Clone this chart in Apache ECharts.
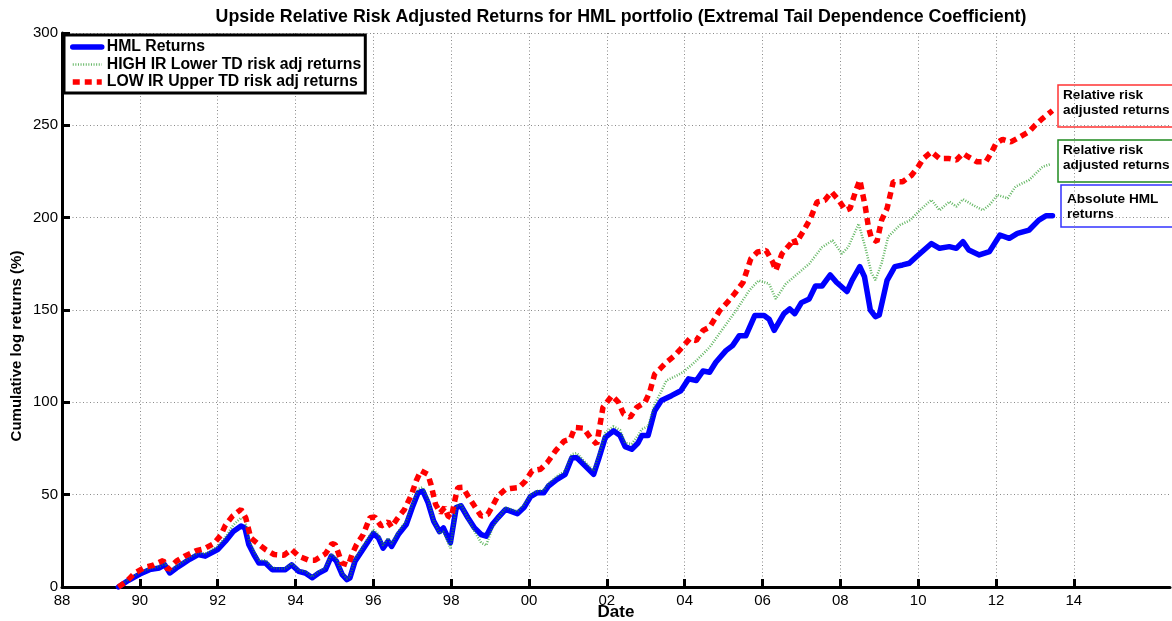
<!DOCTYPE html>
<html lang="en">
<head>
    <meta charset="UTF-8">
    <title>Upside Relative Risk Adjusted Returns</title>
    <script src="https://cdn.jsdelivr.net/npm/echarts@6/dist/echarts.min.js"></script>
    <style>
        html, body { margin: 0; padding: 0; background: #fff; }
        #ChartId { width: 1172px; height: 621px; }
    </style>
</head>
<body>
<div id="ChartId"></div>
<script>
    // tick labels
    var xTickYears = [1988, 1990, 1992, 1994, 1996, 1998, 2000, 2002, 2004, 2006, 2008, 2010, 2012, 2014];
    var yTicks = [0, 50, 100, 150, 200, 250, 300];

    // HML returns (blue)
    var hmlDates = [1989.45, 1989.7, 1990.0, 1990.25, 1990.5, 1990.64, 1990.77, 1990.94, 1991.1, 1991.28, 1991.5, 1991.68,
        1992.0, 1992.2, 1992.4, 1992.6, 1992.7, 1992.8, 1992.93, 1993.06, 1993.23, 1993.4, 1993.57, 1993.74, 1993.9,
        1994.08, 1994.25, 1994.43, 1994.6, 1994.77, 1994.92, 1995.05, 1995.2, 1995.32, 1995.4, 1995.53, 1995.7,
        1996.0, 1996.13, 1996.25, 1996.38, 1996.47, 1996.64, 1996.85, 1997.0, 1997.15, 1997.27, 1997.4, 1997.55,
        1997.7, 1997.8, 1997.98, 1998.13, 1998.25, 1998.43, 1998.6, 1998.77, 1998.9, 1999.06, 1999.2, 1999.4,
        1999.7, 1999.87, 2000.04, 2000.2, 2000.38, 2000.5, 2000.72, 2000.93, 2001.1, 2001.23, 2001.4, 2001.66,
        2001.8, 2001.96, 2002.17, 2002.34, 2002.47, 2002.64, 2002.8, 2002.9, 2003.06, 2003.23, 2003.4, 2003.66,
        2003.9, 2004.1, 2004.3, 2004.47, 2004.64, 2004.8, 2005.06, 2005.23, 2005.4, 2005.57, 2005.8, 2006.04,
        2006.17, 2006.3, 2006.55, 2006.7, 2006.83, 2007.0, 2007.2, 2007.36, 2007.53, 2007.74, 2007.9, 2008.17,
        2008.3, 2008.5, 2008.62, 2008.77, 2008.9, 2009.0, 2009.2, 2009.4, 2009.6, 2009.77, 2009.96, 2010.34,
        2010.55, 2010.8, 2010.98, 2011.15, 2011.3, 2011.57, 2011.83, 2012.1, 2012.34, 2012.55, 2012.85, 2013.1,
        2013.28, 2013.45];
    var hmlReturns = [0, 3.5, 7, 9.4, 10.3, 12, 7.6, 10.3, 12.5, 15, 17.6, 16.7,
        20.3, 24.8, 30, 33, 32, 23, 17.6, 13, 13, 9.4, 9.4, 9.4, 12,
        8.5, 7.6, 5, 7.6, 9.4, 16.7, 14, 6.7, 4, 5, 14, 19.4,
        29, 26.6, 21, 24.8, 22, 28.4, 34, 43, 51, 52, 46, 35.7,
        30, 32, 24, 43, 44, 37.5, 32, 28.4, 27.5, 34, 37.5, 42,
        39.7, 43, 49, 51, 51, 54.7, 58.3, 61, 70, 70, 66.5, 61,
        70, 81, 84.6, 82, 76, 74.6, 78, 82, 82, 95.5, 101, 103.6,
        106.3, 112.7, 111.8, 117, 116.3, 121.7, 128, 130.7, 136, 136, 147, 147,
        145, 139, 148, 150.6, 148, 154, 156, 163, 163, 169, 165, 160,
        166, 173.5, 168, 150, 146.4, 147.3, 166, 173.5, 174.4, 175.3, 179, 186,
        183.4, 184.3, 183.4, 187, 182.5, 179.8, 181.6, 190.6, 188.8, 191.5, 193.3, 198.7,
        201, 201];

    // HIGH IR Lower TD risk adjusted returns (green)
    var highIrDates = [1989.45, 1989.7, 1990.0, 1990.25, 1990.5, 1990.64, 1990.77, 1990.94, 1991.1, 1991.28, 1991.5, 1991.68,
        1992.0, 1992.2, 1992.4, 1992.6, 1992.7, 1992.8, 1992.93, 1993.06, 1993.23, 1993.4, 1993.57, 1993.74, 1993.9,
        1994.08, 1994.25, 1994.43, 1994.6, 1994.77, 1994.92, 1995.05, 1995.2, 1995.32, 1995.4, 1995.53, 1995.7,
        1996.0, 1996.13, 1996.25, 1996.38, 1996.47, 1996.64, 1996.85, 1997.0, 1997.15, 1997.27, 1997.4, 1997.55,
        1997.7, 1997.8, 1997.98, 1998.13, 1998.25, 1998.43, 1998.6, 1998.77, 1998.9, 1999.06, 1999.2, 1999.4,
        1999.7, 1999.87, 2000.04, 2000.2, 2000.38, 2000.5, 2000.72, 2000.93, 2001.1, 2001.23, 2001.4, 2001.66,
        2001.8, 2001.96, 2002.17, 2002.34, 2002.47, 2002.64, 2002.8, 2002.9, 2003.06, 2003.23, 2003.4, 2003.53,
        2003.75, 2003.96, 2004.3, 2004.64, 2004.98, 2005.32, 2005.66, 2005.9, 2006.17, 2006.34, 2006.6, 2006.85,
        2007.2, 2007.53, 2007.8, 2008.04, 2008.2, 2008.47, 2008.64, 2008.8, 2008.9, 2009.06, 2009.23, 2009.53,
        2009.8, 2010.04, 2010.34, 2010.55, 2010.8, 2010.98, 2011.15, 2011.4, 2011.66, 2011.83, 2012.04, 2012.3,
        2012.5, 2012.85, 2013.2, 2013.4];
    var highIrReturns = [0, 4, 8, 10, 11, 13, 8.5, 11.5, 13.5, 16, 18.5, 18,
        22, 27, 33.5, 37.5, 36.5, 26, 19.5, 14.5, 14.5, 10.5, 10, 10, 13,
        9, 8.5, 5.5, 8.5, 10.5, 18, 15.5, 7.5, 4.5, 5.5, 15.5, 21,
        31, 28.5, 22.5, 26.5, 23.5, 30, 36, 45, 53, 54, 48, 36,
        29, 30, 21, 44, 45, 37, 30, 24, 22.5, 32, 37, 43,
        41, 44.5, 50, 52, 52.5, 56, 60, 63, 72, 72.5, 68.5, 63,
        72, 83.5, 87, 85, 78, 77.5, 82, 85.5, 87, 99, 106, 111.8,
        114, 116.3, 122.6, 129.8, 139.8, 149.7, 160.6, 166, 164.2, 156, 164.2, 168.7,
        175, 184, 187.7, 180.5, 184, 196.7, 184, 170, 166.2, 175.3, 189.7, 196,
        198.7, 204, 209.6, 204, 208.7, 206, 210, 206.9, 204, 206.9, 212.3, 210.5,
        216.8, 220.4, 227.6, 229];

    // LOW IR Upper TD risk adjusted returns (red)
    var lowIrDates = [1989.45, 1989.66, 1989.87, 1990.13, 1990.34, 1990.6, 1990.72, 1990.94, 1991.15, 1991.45, 1991.66, 1991.9,
        1992.08, 1992.2, 1992.38, 1992.6, 1992.72, 1992.85, 1993.06, 1993.23, 1993.45, 1993.7, 1993.9, 1994.08,
        1994.34, 1994.5, 1994.77, 1994.94, 1995.02, 1995.1, 1995.19, 1995.36, 1995.45, 1995.57, 1995.74, 1995.91,
        1996.04, 1996.2, 1996.38, 1996.47, 1996.6, 1996.8, 1996.98, 1997.1, 1997.22, 1997.4, 1997.48, 1997.6,
        1997.72, 1997.83, 1997.92, 1998.0, 1998.1, 1998.17, 1998.3, 1998.43, 1998.6, 1998.77, 1998.94, 1999.06,
        1999.2, 1999.4, 1999.53, 1999.74, 1999.91, 2000.08, 2000.3, 2000.47, 2000.68, 2000.9, 2001.06, 2001.18,
        2001.4, 2001.57, 2001.74, 2001.9, 2002.13, 2002.3, 2002.43, 2002.6, 2002.77, 2002.98, 2003.1, 2003.23,
        2003.36, 2003.53, 2003.74, 2003.9, 2004.13, 2004.3, 2004.47, 2004.64, 2004.9, 2005.1, 2005.28, 2005.5,
        2005.57, 2005.7, 2005.87, 2006.09, 2006.26, 2006.34, 2006.5, 2006.72, 2006.8, 2006.85, 2007.06, 2007.23,
        2007.4, 2007.6, 2007.77, 2007.96, 2008.13, 2008.25, 2008.4, 2008.5, 2008.64, 2008.72, 2008.8, 2008.94,
        2009.06, 2009.2, 2009.36, 2009.6, 2009.83, 2010.0, 2010.13, 2010.34, 2010.55, 2010.8, 2010.98, 2011.15,
        2011.28, 2011.5, 2011.74, 2011.87, 2012.0, 2012.17, 2012.38, 2012.6, 2012.85, 2013.0, 2013.2, 2013.45];
    var lowIrReturns = [0, 3, 7.6, 10.7, 11.8, 14.3, 9.4, 14, 16.7, 19.7, 20.8, 23.5,
        28, 33.5, 38.4, 42, 37.5, 26.6, 23, 20.3, 17.6, 17.2, 20.3, 16.7,
        14.5, 14.5, 18, 23.5, 23, 18.5, 13, 11.8, 17.6, 23, 28.4, 37.5,
        37.9, 33, 35.3, 32.4, 36.6, 42, 50, 57.4, 63, 61, 55.6, 44.7,
        40.2, 43, 38.4, 37.5, 47.5, 53.8, 54, 49.3, 43.8, 38.4, 39.3, 43.8,
        49.3, 53, 53.4, 53.8, 57.4, 62.9, 63.8, 67.4, 73.7, 79, 80, 86.4,
        86, 81, 77.4, 97.3, 103.6, 100, 93.7, 91.9, 97.3, 100, 105.4, 115.4,
        118, 121.7, 125.3, 129, 134.4, 133.5, 138.9, 140.7, 149.7, 154.2, 158.8, 165,
        169.6, 177.8, 181.4, 182.3, 176, 171.4, 180.5, 185.9, 188.6, 185.9, 193.1, 199.5,
        208.5, 209.4, 214, 209.4, 204, 205, 214.8, 220.4, 206, 195, 188.8, 187,
        198.7, 205, 219.5, 219.5, 223, 227.6, 232, 235.7, 232, 232, 231.2, 234.8,
        233, 230.3, 230.3, 234.8, 240.2, 242.4, 241, 243.5, 246.6, 250, 253.8, 258];

    function zip(xs, ys) {
        var out = [];
        for (var i = 0; i < xs.length; i++) {
            out.push([xs[i], ys[i]]);
        }
        return out;
    }

    var FONT = 'Liberation Sans, Arial, Helvetica, sans-serif';
    var myChart = echarts.init(document.getElementById('ChartId'));

    var option = {
        backgroundColor: '#fff',
        animation: false,
        title: {
            text: 'Upside Relative Risk Adjusted Returns for HML portfolio (Extremal Tail Dependence Coefficient)',
            left: 616,
            textAlign: 'center',
            top: 3,
            textStyle: { fontFamily: FONT, fontSize: 17.8, fontWeight: 'bold', color: '#000' }
        },
        grid: { left: 62, right: 2, top: 33, bottom: 34, containLabel: false, outerBoundsMode: 'none' },
        legend: {
            orient: 'vertical',
            left: 64,
            top: 35,
            padding: [4, 4, 3, 6],
            itemGap: 1.5,
            itemWidth: 29,
            itemHeight: 14,
            backgroundColor: '#fff',
            borderColor: '#000',
            borderWidth: 3,
            borderRadius: 0,
            itemStyle: { opacity: 0 },
            lineStyle: { width: 'inherit' },
            textStyle: { fontFamily: FONT, fontSize: 15.8, fontWeight: 'bold', color: '#000' },
            data: ['HML Returns', 'HIGH IR Lower TD risk adj returns', 'LOW IR Upper TD risk adj returns']
        },
        xAxis: {
            type: 'value',
            min: 1988,
            max: 2016.47,
            interval: 2,
            name: 'Date',
            nameLocation: 'middle',
            nameGap: 17,
            nameMoveOverlap: false,
            nameTextStyle: { fontFamily: FONT, fontSize: 17, fontWeight: 'bold', color: '#000' },
            axisLine: { lineStyle: { color: '#000', width: 3 } },
            axisTick: { inside: true, length: 8, lineStyle: { color: '#000', width: 3 }, customValues: xTickYears },
            axisLabel: {
                customValues: xTickYears,
                fontFamily: FONT, fontSize: 15, color: '#000', margin: 6,
                formatter: function (v) { return String(Math.round(v) % 100).padStart(2, '0'); }
            },
            splitLine: { show: true, lineStyle: { color: '#8a8a8a', width: 1, type: [1, 2.5] } }
        },
        yAxis: {
            type: 'value',
            min: 0,
            max: 300,
            interval: 50,
            axisLine: { show: true, lineStyle: { color: '#000', width: 3 } },
            axisTick: { show: true, inside: true, length: 8, lineStyle: { color: '#000', width: 3 }, customValues: yTicks },
            axisLabel: { customValues: yTicks, fontFamily: FONT, fontSize: 15, color: '#000', margin: 4 },
            splitLine: { show: true, lineStyle: { color: '#8a8a8a', width: 1, type: [1, 2.5] } }
        },
        graphic: [
            {
                type: 'text', x: 17, y: 346, rotation: Math.PI / 2,
                style: { text: 'Cumulative log returns (%)', font: 'bold 15px ' + FONT, fill: '#000', align: 'center', verticalAlign: 'middle' }
            },
            { type: 'rect', shape: { x: 1058, y: 85, width: 130, height: 42 }, style: { fill: '#fff', stroke: '#ff3333', lineWidth: 1.5 } },
            { type: 'text', style: { x: 1063, y: 88, text: 'Relative risk\nadjusted returns', font: 'bold 13.6px ' + FONT, lineHeight: 14.5, fill: '#000' } },
            { type: 'rect', shape: { x: 1058, y: 140, width: 130, height: 42 }, style: { fill: '#fff', stroke: '#1f8a1f', lineWidth: 1.5 } },
            { type: 'text', style: { x: 1063, y: 143, text: 'Relative risk\nadjusted returns', font: 'bold 13.6px ' + FONT, lineHeight: 14.5, fill: '#000' } },
            { type: 'rect', shape: { x: 1061, y: 185, width: 130, height: 42 }, style: { fill: '#fff', stroke: '#3333ff', lineWidth: 1.5 } },
            { type: 'text', style: { x: 1067, y: 192, text: 'Absolute HML\nreturns', font: 'bold 13.6px ' + FONT, lineHeight: 14.5, fill: '#000' } }
        ],
        series: [
            {
                name: 'HML Returns',
                type: 'line',
                symbol: 'none',
                data: zip(hmlDates, hmlReturns),
                lineStyle: { color: '#0000ff', width: 5.5, join: 'round', cap: 'round' },
                itemStyle: { color: '#0000ff' },
                z: 2
            },
            {
                name: 'HIGH IR Lower TD risk adj returns',
                type: 'line',
                symbol: 'none',
                data: zip(highIrDates, highIrReturns),
                lineStyle: { color: '#2e9e2e', width: 2.5, type: [1, 1.6], opacity: 0.75 },
                itemStyle: { color: '#2e9e2e' },
                z: 3
            },
            {
                name: 'LOW IR Upper TD risk adj returns',
                type: 'line',
                symbol: 'none',
                data: zip(lowIrDates, lowIrReturns),
                lineStyle: { color: '#ff0000', width: 5.5, type: [7, 5] },
                itemStyle: { color: '#ff0000' },
                z: 4
            }
        ]
    };
    myChart.setOption(option);
</script>
</body>
</html>
